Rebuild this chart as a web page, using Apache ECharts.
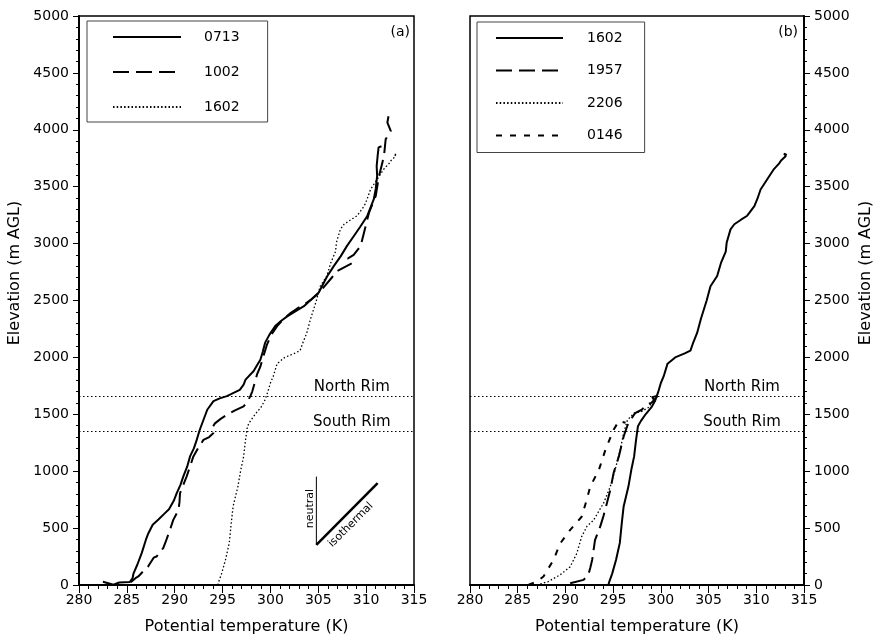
<!DOCTYPE html>
<html><head><meta charset="utf-8">
<script src="https://cdn.jsdelivr.net/npm/echarts/dist/echarts.min.js"></script>
<style>html,body{margin:0;padding:0;background:#fff}#c{width:876px;height:642px}</style>
</head><body><div id="c"></div>
<script>
// ---- data (potential temperature K, elevation m AGL) ----
const xTicks = [280, 285, 290, 295, 300, 305, 310, 315];
const yTicks = [0, 500, 1000, 1500, 2000, 2500, 3000, 3500, 4000, 4500, 5000];
const legendA = ['0713', '1002', '1602'];
const legendB = ['1602', '1957', '2206', '0146'];

const s0713 = [[282.5,28],[283.6,2],[284.2,22],[285.3,26],[285.6,60],[285.7,103],[286.1,180],[286.55,280],[287.0,400],[287.25,455],[287.7,530],[288.3,575],[288.9,625],[289.4,665],[289.9,740],[290.2,805],[290.6,880],[290.9,955],[291.3,1040],[291.6,1130],[292.0,1200],[292.3,1275],[292.6,1360],[293.0,1450],[293.4,1540],[294.05,1615],[294.7,1640],[295.45,1660],[296.2,1690],[296.8,1715],[297.2,1760],[297.4,1805],[298.25,1880],[298.6,1930],[298.95,1980],[299.2,2050],[299.45,2130],[299.9,2200],[300.5,2275],[301.1,2320],[301.75,2360],[302.6,2405],[303.5,2450],[304.2,2505],[305.05,2570],[305.75,2685],[305.95,2715],[306.6,2800],[307.35,2890],[308.0,2980],[308.7,3065],[309.4,3150],[310.1,3240],[310.8,3390],[311.0,3480],[311.15,3595],[311.1,3680],[311.2,3770],[311.3,3845],[311.6,3855]];
const s1002 = [[285.4,25],[285.9,60],[286.2,75],[286.7,120],[287.2,160],[287.8,240],[288.1,250],[288.8,325],[289.0,367],[289.5,484],[289.85,572],[290.4,660],[290.5,730],[290.55,805],[290.9,880],[291.25,955],[291.6,1040],[291.95,1130],[292.5,1210],[293.0,1275],[293.6,1300],[294.05,1335],[293.9,1380],[294.2,1420],[294.8,1460],[295.45,1495],[296.3,1535],[297.2,1570],[297.6,1610],[297.9,1660],[298.1,1700],[298.4,1790],[298.6,1850],[298.95,1920],[299.3,2020],[299.65,2115],[300.1,2200],[300.7,2275],[301.4,2340],[302.1,2390],[302.8,2430],[303.5,2465],[304.3,2510],[305.0,2560],[305.6,2620],[306.4,2700],[307.0,2760],[307.9,2800],[308.6,2830],[308.1,2870],[308.7,2900],[309.42,2978],[309.95,3155],[310.3,3272],[311.0,3418],[311.34,3594],[311.7,3712],[311.9,3800],[312.04,3917],[312.57,3990],[312.22,4064],[312.4,4152],[312.6,4130]];
const s1602 = [[294.5,0],[294.6,30],[294.9,100],[295.3,220],[295.7,370],[295.9,540],[296.1,690],[296.6,865],[296.9,1010],[297.2,1130],[297.4,1275],[297.6,1395],[297.9,1440],[298.4,1500],[299.0,1560],[299.4,1620],[299.7,1690],[300.0,1775],[300.3,1835],[300.7,1945],[301.5,2000],[302.5,2035],[303.1,2060],[303.35,2120],[303.8,2215],[304.2,2340],[304.8,2500],[305.2,2625],[305.9,2715],[306.3,2830],[306.8,2930],[306.9,3010],[307.3,3125],[307.7,3170],[308.4,3210],[309.05,3245],[309.8,3330],[310.1,3390],[310.45,3475],[311.15,3565],[311.85,3655],[312.4,3705],[312.6,3730],[313.1,3770],[312.9,3790],[313.2,3780]];
const s1957 = [[290.5,15],[291.9,45],[292.4,90],[292.6,150],[292.8,220],[293.1,395],[293.65,515],[294.0,610],[294.35,720],[294.7,835],[295.05,985],[295.6,1130],[296.1,1305],[296.6,1425],[297.3,1510],[298.0,1540],[298.5,1585],[299.0,1600],[299.3,1625],[299.1,1650],[299.5,1660],[299.7,1640]];
const s2206 = [[287.0,0],[288.2,30],[289.45,90],[290.5,160],[291.2,280],[291.7,425],[292.25,515],[292.95,570],[294.0,720],[294.7,865],[295.2,1010],[295.75,1190],[296.1,1335],[296.5,1450],[297.2,1510],[298.0,1525],[298.7,1560],[299.2,1620],[299.5,1650]];
const s0146 = [[286.1,0],[287.0,30],[287.7,75],[288.75,220],[289.45,365],[290.5,485],[291.7,600],[292.2,740],[292.6,865],[293.5,1010],[294.2,1190],[295.05,1365],[295.6,1440],[296.3,1425]];

const rimNames = ['North Rim', 'South Rim'];
const rimElev = [1660, 1350];
const rimLabelX = 308.5;
const insetNeutral = [[304.8,352],[304.8,953]];
const insetIso = [[304.8,352],[311.2,895]];
const insetText = [[304.1,672,'neutral',90],[308.4,528,'isothermal',45]];

// ---- chart ----
const FONT = 'DejaVu Sans';
const chart = echarts.init(document.getElementById('c'));
const txt = {fontFamily: FONT, color: '#000'};
const noMarker = {color: 'rgba(0,0,0,0)', borderColor: 'rgba(0,0,0,0)', borderWidth: 0, opacity: 0};

function line(name, data, gi, type, width) {
  return {name, type: 'line', xAxisIndex: gi, yAxisIndex: gi, data, symbol: 'none',
    showSymbol: false, silent: true, animation: false, z: 3,
    lineStyle: {color: '#000', width, type}, itemStyle: {color: '#000'}};
}
function xAx(gi) {
  return {type: 'value', gridIndex: gi, min: 280, max: 315, interval: 5,
    name: 'Potential temperature (K)', nameLocation: 'middle', nameGap: 34,
    nameTextStyle: Object.assign({fontSize: 16}, txt),
    axisLine: {show: true, onZero: false, lineStyle: {color: '#000', width: 2}},
    axisTick: {show: true, inside: false, length: 8, lineStyle: {color: '#000', width: 1}},
    minorTick: {show: true, splitNumber: 5, length: 4, lineStyle: {color: '#000', width: 1}},
    axisLabel: Object.assign({fontSize: 14, margin: 8, formatter: v => xTicks.includes(v) ? String(v) : ''}, txt),
    splitLine: {show: false}, minorSplitLine: {show: false}};
}
function yAx(gi, pos) {
  return {type: 'value', gridIndex: gi, min: 0, max: 5000, interval: 500, position: pos,
    axisLine: {show: true, onZero: false, lineStyle: {color: '#000', width: 2}},
    axisTick: {show: true, inside: false, length: 6, lineStyle: {color: '#000', width: 1}},
    minorTick: {show: true, splitNumber: 5, length: 3, lineStyle: {color: '#000', width: 1}},
    axisLabel: Object.assign({fontSize: 14, margin: 10, formatter: v => yTicks.includes(v) ? String(v) : ''}, txt),
    splitLine: {show: false}, minorSplitLine: {show: false}};
}
const rimMark = {symbol: ['none', 'none'], silent: true, animation: false, label: {show: false},
  lineStyle: {color: '#000', width: 1.2, type: [1.5, 2.5]},
  data: rimElev.map(v => ({yAxis: v}))};
function rimLabels(gi) {
  return {type: 'scatter', xAxisIndex: gi, yAxisIndex: gi, silent: true, animation: false,
    symbolSize: 1, itemStyle: {color: 'rgba(0,0,0,0)', opacity: 1},
    data: rimNames.map((n, i) => [rimLabelX, rimElev[i], n]),
    label: Object.assign({show: true, position: 'top', distance: 1, fontSize: 15, opacity: 1,
      formatter: p => p.value[2]}, txt)};
}

const sA1602 = line('1602', s1602, 0, [1.5, 2.2], 1.3);
const sA0713 = line('0713', s0713, 0, 'solid', 2);
sA0713.markLine = rimMark;
const sB1602 = line('1602b', s1602, 1, 'solid', 2);
sB1602.markLine = JSON.parse(JSON.stringify(rimMark));

const option = {
  backgroundColor: '#fff',
  animation: false,
  grid: [
    {left: 79, top: 16, width: 335, height: 569, show: true, borderColor: '#000', borderWidth: 1.5, backgroundColor: 'transparent'},
    {left: 470, top: 16, width: 334, height: 569, show: true, borderColor: '#000', borderWidth: 1.5, backgroundColor: 'transparent'}
  ],
  xAxis: [xAx(0), xAx(1)],
  yAxis: [yAx(0, 'left'), yAx(1, 'right')],
  legend: [
    {data: legendA, orient: 'vertical', left: 87, top: 21, itemWidth: 68, itemHeight: 14, itemGap: 21,
      padding: [9, 28, 8, 25], borderColor: '#444', borderWidth: 1, backgroundColor: '#fff',
      selectedMode: false, itemStyle: noMarker,
      textStyle: Object.assign({fontSize: 14, lineHeight: 14, padding: [0, 0, 0, 18]}, txt)},
    {data: legendB.map(n => n === '1602' ? '1602b' : n), orient: 'vertical', left: 477, top: 22,
      itemWidth: 67, itemHeight: 14, itemGap: 18.5,
      padding: [9, 22, 10, 18], borderColor: '#444', borderWidth: 1, backgroundColor: '#fff',
      selectedMode: false, itemStyle: noMarker, formatter: n => n === '1602b' ? '1602' : n,
      textStyle: Object.assign({fontSize: 14, lineHeight: 14, padding: [0, 0, 0, 19]}, txt)}
  ],
  graphic: [
    {type: 'text', x: 410, y: 32, silent: true, style: {text: '(a)', font: '14px "DejaVu Sans"', fill: '#000', align: 'right', verticalAlign: 'middle'}},
    {type: 'text', x: 798, y: 32, silent: true, style: {text: '(b)', font: '14px "DejaVu Sans"', fill: '#000', align: 'right', verticalAlign: 'middle'}},
    {type: 'text', x: 15, y: 273, rotation: Math.PI / 2, silent: true, style: {text: 'Elevation (m AGL)', font: '16px "DejaVu Sans"', fill: '#000', align: 'center', verticalAlign: 'middle'}},
    {type: 'text', x: 866, y: 273, rotation: Math.PI / 2, silent: true, style: {text: 'Elevation (m AGL)', font: '16px "DejaVu Sans"', fill: '#000', align: 'center', verticalAlign: 'middle'}}
  ],
  series: [
    sA0713,
    line('1002', s1002, 0, [16, 7], 2),
    sA1602,
    sB1602,
    line('1957', s1957, 1, [16, 7], 2),
    line('2206', s2206, 1, [1.5, 2.2], 1.3),
    line('0146', s0146, 1, [6, 8], 2),
    rimLabels(0),
    rimLabels(1),
    line('inset-neutral', insetNeutral, 0, 'solid', 1),
    line('inset-iso', insetIso, 0, 'solid', 2.5),
    {type: 'scatter', xAxisIndex: 0, yAxisIndex: 0, silent: true, animation: false,
      symbolSize: 1, itemStyle: {color: 'rgba(0,0,0,0)', opacity: 1},
      data: insetText.map(d => ({value: [d[0], d[1]], name: d[2],
        label: {rotate: d[3]}})),
      label: Object.assign({show: true, position: 'inside', fontSize: 11, opacity: 1, formatter: p => p.name}, txt)}
  ]
};
chart.setOption(option);
</script>
</body></html>
